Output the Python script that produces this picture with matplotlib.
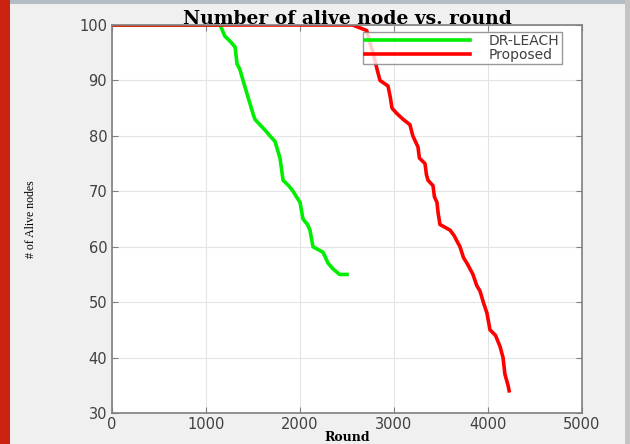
import matplotlib
matplotlib.use('Agg')
import matplotlib.pyplot as plt
from matplotlib.patches import Rectangle

# Alive nodes per round
dr_leach_round = [0, 1150, 1200, 1260, 1310, 1330, 1360, 1394, 1447, 1500, 1520, 1574, 1630,
                  1680, 1734, 1787, 1820, 1880, 1926, 2000, 2032, 2080, 2106, 2138, 2245,
                  2300, 2351, 2420, 2500]
dr_leach_alive = [100, 100, 98, 97, 96, 93, 92, 90, 87, 84, 83, 82, 81,
                  80, 79, 76, 72, 71, 70, 68, 65, 64, 63, 60, 59,
                  57, 56, 55, 55]

proposed_round = [0, 2560, 2710, 2740, 2777, 2820, 2851, 2936, 2960, 2979, 3032, 3096, 3170,
                  3200, 3255, 3270, 3330, 3345, 3362, 3415, 3430, 3457, 3470, 3489, 3596,
                  3640, 3670, 3702, 3740, 3777, 3840, 3880, 3915, 3950, 3989, 4021, 4080,
                  4128, 4160, 4180, 4213, 4225]
proposed_alive = [100, 100, 99, 97, 95, 92, 90, 89, 87, 85, 84, 83, 82,
                  80, 78, 76, 75, 73, 72, 71, 69, 68, 66, 64, 63,
                  62, 61, 60, 58, 57, 55, 53, 52, 50, 48, 45, 44,
                  42, 40, 37, 35, 34]

x_ticks = [0, 1000, 2000, 3000, 4000, 5000]
y_ticks = [30, 40, 50, 60, 70, 80, 90, 100]

fig = plt.figure(figsize=(6.3, 4.44), dpi=100, facecolor='#f0f0f0')

# window decorations of the screenshot
fig.patches.append(Rectangle((0, 0), 10 / 630, 1, transform=fig.transFigure,
                             facecolor='#cc2211', edgecolor='none'))
fig.patches.append(Rectangle((10 / 630, 1 - 4 / 444), 1, 4 / 444, transform=fig.transFigure,
                             facecolor='#b4bcc4', edgecolor='none'))
fig.patches.append(Rectangle((625 / 630, 0), 5 / 630, 1, transform=fig.transFigure,
                             facecolor='#c4c4c4', edgecolor='none'))

ax = fig.add_axes([112 / 630, 31 / 444, 470 / 630, 388 / 444])
ax.set_facecolor('white')

ax.plot(dr_leach_round, dr_leach_alive, color='#00ee00', lw=2.6, label='DR-LEACH')
ax.plot(proposed_round, proposed_alive, color='#ff0000', lw=2.6, label='Proposed')

ax.set_xlim(0, 5000)
ax.set_ylim(30, 100)
ax.set_xticks(x_ticks)
ax.set_yticks(y_ticks)
ax.grid(True, color='#e4e4e4', lw=0.8)
ax.set_axisbelow(True)
ax.tick_params(direction='in', top=True, right=True, length=4, color='#808080',
               labelcolor='#404040', labelsize=10.5)
ax.tick_params(axis='x', pad=3)
for sp in ax.spines.values():
    sp.set_color('#808080')
    sp.set_linewidth(1.2)

ax.set_title('Number of alive node vs. round', family='DejaVu Serif', fontweight='bold',
             fontsize=13.5, pad=1)
ax.set_xlabel('Round', family='DejaVu Serif', fontweight='bold', fontsize=9, labelpad=-1)
ax.set_ylabel('# of Alive nodes', family='Liberation Serif', fontsize=8.5, labelpad=30)

leg = ax.legend(loc='upper right', bbox_to_anchor=(0.957, 0.982), fancybox=False,
                edgecolor='#808080', fontsize=10, handlelength=7.5, borderpad=0.15,
                labelspacing=0.0, handletextpad=1.4, borderaxespad=0)
for t in leg.get_texts():
    t.set_color('#404040')

fig.savefig('out.png', dpi=100, facecolor=fig.get_facecolor())
